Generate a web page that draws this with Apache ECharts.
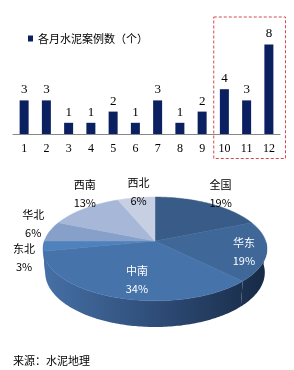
<!DOCTYPE html>
<html>
<head>
<meta charset="utf-8">
<script src="https://cdn.jsdelivr.net/npm/echarts@6/dist/echarts.min.js"></script>
<style>html,body{margin:0;padding:0;background:#fff;}#c{width:294px;height:370px;}</style>
</head>
<body>
<div id="c"></div>
<script>
// ---- data ----
const months = ['1','2','3','4','5','6','7','8','9','10','11','12'];
const monthCases = [3,3,1,1,2,1,3,1,2,4,3,8];
const seriesName = '各月水泥案例数（个）';
const regions = ['全国','华东','中南','东北','华北','西南','西北'];
const regionCases = [6,6,11,1,2,4,2];
const sourceText = '来源：水泥地理';

// ---- styles / layout ----
const topColors = ['#385b88','#3f6899','#4673aa','#4f81bd','#86a0ca','#a7b7d7','#c7cfe2'];
const labelInside = [false,true,true,false,false,false,false];
const labelNudge = [[-3,0],[0,3],[11,-5],[15,10],[14,-5],[19,-6],[7,5]];
const P = {CX:155, CY:241, S:0.458, C:0.889, D:5.83, K:645, H:0.2425};

function proj(phi, rho, Y){
  const X = rho*Math.sin(phi), Z = rho*Math.cos(phi);
  const depth = P.D + Z*P.C - Y*P.S;
  return [P.CX + X*P.K/depth, P.CY - (Y*P.C + Z*P.S)*P.K/depth];
}
const total = regionCases.reduce((a,b)=>a+b,0);
function angles(i){
  let s = 0; for (let j=0;j<i;j++) s += regionCases[j];
  return [s/total*2*Math.PI, (s+regionCases[i])/total*2*Math.PI];
}
function arc(a1,a2,Y){
  const pts=[]; const n=Math.max(2,Math.ceil((a2-a1)/(Math.PI/180)));
  for(let k=0;k<=n;k++){ pts.push(proj(a1+(a2-a1)*k/n,1,Y)); }
  return pts;
}
const sideGrad = {type:'linear', x:43, y:0, x2:267, y2:0, global:true,
  colorStops:[{offset:0,color:'#4670a6'},{offset:0.5,color:'#2f4d78'},{offset:1,color:'#172a45'}]};

function renderSide(params, api){
  const i = params.dataIndex;
  const [a1,a2] = angles(i);
  const s = Math.max(a1, Math.PI/2), e = Math.min(a2, 1.5*Math.PI);
  if (e <= s) return {type:'group', children:[]};
  const top = arc(s,e,0), bot = arc(s,e,-P.H).reverse();
  return {type:'polygon', silent:true, shape:{points: top.concat(bot)}, style:{fill: sideGrad, stroke: null}};
}
function renderTop(params, api){
  const i = params.dataIndex;
  const [a1,a2] = angles(i);
  const pts = [proj(0,0,0)].concat(arc(a1,a2,0));
  const mid = (a1+a2)/2;
  const anchor = proj(mid, labelInside[i]?0.8:1.3, 0);
  const pct = Math.round(api.value(0)/total*100) + '%';
  return {type:'group', children:[
    {type:'polygon', silent:true, shape:{points:pts}, style:{fill: topColors[i], stroke: topColors[i], lineWidth:0.5}},
    {type:'text', silent:true, x: anchor[0]+labelNudge[i][0], y: anchor[1]+labelNudge[i][1], z2:10,
      style:{text: regions[i] + '\n' + pct, fill: labelInside[i]?'#ffffff':'#000000',
        fontSize:11, fontFamily:'Noto Sans CJK SC', align:'center', verticalAlign:'middle', lineHeight:18}}
  ]};
}

const chart = echarts.init(document.getElementById('c'), null, {renderer:'canvas'});
chart.setOption({
  animation:false,
  textStyle:{fontFamily:'Noto Sans CJK SC'},
  legend:{data:[seriesName], left:28, top:33, padding:0, icon:'rect', itemWidth:5, itemHeight:6, itemGap:4,
    textStyle:{fontSize:11, color:'#000', fontFamily:'Noto Sans CJK SC'}},
  grid:{left:13, right:14, top:22, height:112, containLabel:false},
  xAxis:{type:'category', data:months,
    axisLine:{lineStyle:{color:'#888'}}, axisTick:{length:3, lineStyle:{color:'#888'}},
    axisLabel:{margin:9, fontSize:12, color:'#000', fontFamily:'Liberation Serif'}},
  yAxis:{type:'value', min:0, max:10, show:false, splitLine:{show:false}},
  series:[
    {name:seriesName, type:'bar', data:monthCases, barWidth:9, itemStyle:{color:'#0b2060'},
      label:{show:true, position:'top', distance:4, fontSize:13, color:'#000', fontFamily:'Liberation Serif'}},
    {type:'custom', name:'sides', coordinateSystem:'none', data:regionCases, renderItem:renderSide, z:1, silent:true},
    {type:'custom', name:'tops', coordinateSystem:'none', data:regionCases, renderItem:renderTop, z:2, silent:true}
  ]
});
const c10 = chart.convertToPixel({xAxisIndex:0}, '10');
const c12 = chart.convertToPixel({xAxisIndex:0}, '12');
const band = (c12 - c10)/2;
chart.setOption({graphic:[
  {type:'rect', shape:{x:c10-band/2+0.5, y:17, width:(c12+band/2+5.5)-(c10-band/2+0.5), height:141.5},
    style:{fill:null, stroke:'#d4474c', lineWidth:1, lineDash:[3,2]}, silent:true},
  {type:'text', left:13, top:355, style:{text:sourceText, fontSize:11, fill:'#000', fontFamily:'Noto Sans CJK SC'}, silent:true}
]});
</script>
</body>
</html>
